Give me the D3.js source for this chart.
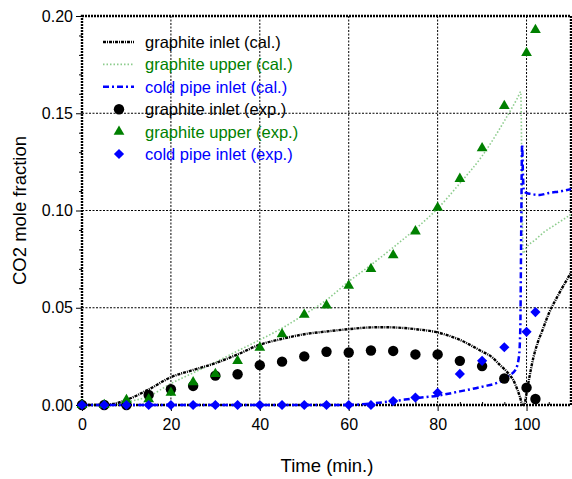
<!DOCTYPE html>
<html>
<head>
<meta charset="utf-8">
<script src="https://cdn.jsdelivr.net/npm/d3@7"></script>
<style>
	body { margin: 0; background: #fff; }
	svg { display: block; font-family: "Liberation Sans", Arial, sans-serif; }
	.tick_label text { font-size: 16px; fill: #000; }
	.axis_title { font-size: 18.5px; fill: #000; }
	.legend_text { font-size: 16.5px; }
</style>
</head>
<body>
<div id="chart"></div>
<script>

// experimental sample times (min.)
const time_exp = [0, 5, 10, 15, 20, 25, 30, 35, 40, 45, 50, 55, 60, 65, 70, 75, 80, 85, 90, 95, 100, 102];

// measured CO2 mole fractions
const inlet_exp = [0, 0, 0, 0.0052, 0.0081, 0.0098, 0.0151, 0.0158, 0.0205, 0.0223, 0.025, 0.0274,
	0.027, 0.028, 0.0278, 0.026, 0.026, 0.0227, 0.020, 0.0136, 0.0089, 0.0031];
const upper_exp = [0, 0, 0.0026, 0.003, 0.0063, 0.0117, 0.016, 0.0227, 0.0295, 0.0364, 0.0464, 0.0512,
	0.0613, 0.070, 0.077, 0.0893, 0.1015, 0.1163, 0.132, 0.1538, 0.181, 0.1928];
const cold_exp = [0, 0, 0, 0, 0, 0, 0, 0, 0, 0, 0, 0,
	0, 0, 0.002, 0.0038, 0.0063, 0.016, 0.0227, 0.0297, 0.0376, 0.0478];

// calculated curves
const inlet_cal_t = [0, 5, 7, 10, 15, 20, 25, 30, 35, 40, 45, 50, 55, 60, 65, 68, 70, 75, 80, 85, 90, 92, 94, 96, 97, 98, 98.5, 99, 99.3,
	99.6, 100, 100.7, 101.5, 102.5, 103.5, 105, 107, 110];
const inlet_cal_v = [0, 0, 0.0005, 0.0026, 0.008, 0.0143, 0.018, 0.0215, 0.026, 0.031, 0.034, 0.0364, 0.0378, 0.039, 0.0399, 0.040,
	0.0399, 0.039, 0.0373, 0.0335, 0.0275, 0.025, 0.0206, 0.016, 0.0129, 0.0075, 0.0043, 0.0005, 0,
	0.001, 0.006, 0.015, 0.024, 0.032, 0.038, 0.047, 0.056, 0.068];

const upper_cal_t = [0, 5, 7, 10, 15, 20, 25, 30, 35, 40, 45, 50, 55, 60, 65, 70, 75, 80, 85, 90, 95, 98, 98.7, 98.9, 99.1, 99.25,
	100, 102, 104, 106, 108, 110];
const upper_cal_v = [0, 0, 0, 0.0015, 0.0045, 0.011, 0.0165, 0.022, 0.0278, 0.0335, 0.0395, 0.0465, 0.054, 0.0635, 0.072, 0.081,
	0.0905, 0.101, 0.114, 0.128, 0.146, 0.158, 0.161, 0.13, 0.09, 0.078,
	0.081, 0.085, 0.089, 0.092, 0.095, 0.098];

const cold_cal_t = [0, 60, 65, 70, 75, 80, 85, 90, 94, 96, 97.5, 98.3, 98.6, 98.8, 99.0, 99.2, 99.4, 100, 101, 103, 105, 108, 110];
const cold_cal_v = [0, 0, 0.0008, 0.002, 0.0035, 0.0048, 0.007, 0.0094, 0.012, 0.015, 0.018, 0.025, 0.04, 0.09, 0.134, 0.118,
	0.110, 0.109, 0.1085, 0.108, 0.109, 0.110, 0.111];

// axis ticks
const x_ticks = [0, 20, 40, 60, 80, 100];
const x_minor = [5, 10, 15, 25, 30, 35, 45, 50, 55, 65, 70, 75, 85, 90, 95, 105];
const y_ticks = [0, 0.05, 0.10, 0.15, 0.20];
const y_minor = [0.01, 0.02, 0.03, 0.04, 0.06, 0.07, 0.08, 0.09, 0.11, 0.12, 0.13, 0.14, 0.16, 0.17, 0.18, 0.19];

// legend entries
const legend_labels = ["graphite inlet (cal.)", "graphite upper (cal.)", "cold pipe inlet (cal.)",
	"graphite inlet (exp.)", "graphite upper (exp.)", "cold pipe inlet (exp.)"];

const black = "#000000", green = "#008000", light_green = "#8ccc8c", blue = "#0000ff";

draw_chart();

function draw_chart()
{
	// SVG canvas size
	let margin = {top: 16, right: 1, bottom: 74, left: 82};
	let width = 572 - margin.left - margin.right;
	let height = 479 - margin.top - margin.bottom;

	let svg = d3.select("#chart")
		.append("svg")
		.attr("width", 572)
		.attr("height", 479);

	let g = svg.append("g")
		.attr("transform", "translate(" + margin.left + "," + margin.top + ")");

	//create scales
	let x_scale = d3.scaleLinear().domain([0, 110]).range([0, width]);
	let y_scale = d3.scaleLinear().domain([0, 0.20]).range([height, 0]);

	//grid lines
	g.selectAll(".grid_x")
		.data(x_ticks.slice(1))
		.enter()
		.append("line")
		.attr("x1", d => x_scale(d)).attr("x2", d => x_scale(d))
		.attr("y1", 0).attr("y2", height)
		.attr("stroke", "#000").attr("stroke-width", 1)
		.attr("stroke-dasharray", "2,1.5");

	g.selectAll(".grid_y")
		.data(y_ticks.slice(1, -1))
		.enter()
		.append("line")
		.attr("x1", 0).attr("x2", width)
		.attr("y1", d => y_scale(d)).attr("y2", d => y_scale(d))
		.attr("stroke", "#000").attr("stroke-width", 1)
		.attr("stroke-dasharray", "2,1.5");

	//x axis, major and minor
	let x_axis = d3.axisBottom(x_scale).tickValues(x_ticks).tickSize(6).tickPadding(8).tickFormat(d3.format("d"));
	g.append("g")
		.attr("class", "tick_label")
		.attr("transform", "translate(0," + height + ")")
		.call(x_axis)
		.call(a => a.select(".domain").remove());

	g.append("g")
		.attr("transform", "translate(0," + height + ")")
		.call(d3.axisBottom(x_scale).tickValues(x_minor).tickSize(-3).tickFormat(""))
		.call(a => a.select(".domain").remove());

	//y axis, major and minor
	let y_axis = d3.axisLeft(y_scale).tickValues(y_ticks).tickSize(6).tickPadding(3).tickFormat(d3.format(".2f"));
	g.append("g")
		.attr("class", "tick_label")
		.call(y_axis)
		.call(a => a.select(".domain").remove());

	g.append("g")
		.call(d3.axisLeft(y_scale).tickValues(y_minor).tickSize(3).tickFormat(""))
		.call(a => a.select(".domain").remove());

	//frame
	g.append("rect")
		.attr("x", 0).attr("y", 0)
		.attr("width", width).attr("height", height)
		.attr("fill", "none")
		.attr("stroke", "#000").attr("stroke-width", 2.4)
		.attr("stroke-dasharray", "2,1");

	//calculated lines
	let line = d3.line()
		.x(d => x_scale(d[0]))
		.y(d => y_scale(d[1]))
		.curve(d3.curveMonotoneX);

	let cal_series = [
		{t: upper_cal_t, v: upper_cal_v, color: light_green, w: 1.6, dash: "1.5,2"},
		{t: inlet_cal_t, v: inlet_cal_v, color: black, w: 2.4, dash: "3,1,1,1"},
		{t: cold_cal_t, v: cold_cal_v, color: blue, w: 2.5, dash: "6,3,2,3"}
	];

	g.selectAll(".cal_line")
		.data(cal_series)
		.enter()
		.append("path")
		.attr("fill", "none")
		.attr("stroke", d => d.color)
		.attr("stroke-width", d => d.w)
		.attr("stroke-dasharray", d => d.dash)
		.attr("d", d => line(d.t.map((t, i) => [t, d.v[i]])));

	//experimental markers (diamond = rotated square)
	let circle = d3.symbol().type(d3.symbolCircle).size(85);
	let triangle = d3.symbol().type(d3.symbolTriangle).size(50);
	let diamond = d3.symbol().type(d3.symbolSquare).size(52);

	let exp_series = [
		{v: inlet_exp, sym: circle, color: black, rot: 0},
		{v: upper_exp, sym: triangle, color: green, rot: 0},
		{v: cold_exp, sym: diamond, color: blue, rot: 45}
	];

	exp_series.forEach(s => {
		g.append("g")
			.selectAll("path")
			.data(time_exp)
			.enter()
			.append("path")
			.attr("d", s.sym)
			.attr("fill", s.color)
			.attr("transform", (t, i) => "translate(" + x_scale(t) + "," + y_scale(s.v[i]) + ") rotate(" + s.rot + ")");
	});

	//legend
	let legend = svg.append("g").attr("transform", "translate(0,42)");
	let row_h = 22.4;
	let colors = [black, green, blue, black, green, blue];

	let cal_series_legend = [cal_series[1], cal_series[0], cal_series[2]];
	cal_series_legend.forEach((s, i) => {
		legend.append("line")
			.attr("x1", 103).attr("x2", 134)
			.attr("y1", i * row_h).attr("y2", i * row_h)
			.attr("stroke", s.color)
			.attr("stroke-width", s.w)
			.attr("stroke-dasharray", s.dash);
	});

	exp_series.forEach((s, i) => {
		legend.append("path")
			.attr("d", s.sym)
			.attr("fill", s.color)
			.attr("transform", "translate(119," + ((i + 3) * row_h) + ") rotate(" + s.rot + ")");
	});

	legend.selectAll(".legend_text")
		.data(legend_labels)
		.enter()
		.append("text")
		.attr("class", "legend_text")
		.attr("x", 145)
		.attr("y", (d, i) => i * row_h + 6)
		.attr("fill", (d, i) => colors[i])
		.text(d => d);

	//axis titles
	svg.append("text")
		.attr("class", "axis_title")
		.attr("text-anchor", "middle")
		.attr("x", 327).attr("y", 472)
		.text("Time (min.)");

	svg.append("text")
		.attr("class", "axis_title")
		.attr("text-anchor", "middle")
		.attr("transform", "translate(25.5," + (margin.top + height / 2) + ") rotate(-90)")
		.text("CO2 mole fraction");
}

</script>
</body>
</html>
